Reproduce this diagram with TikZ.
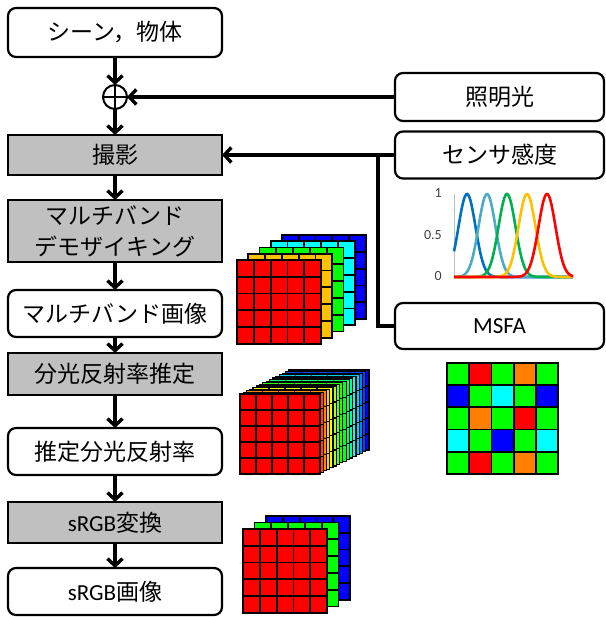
\documentclass[tikz,border=0pt]{standalone}
\usepackage{fontspec}
\setmainfont{Noto Sans CJK JP}
\newfontfamily\lat{Carlito}
\usetikzlibrary{arrows.meta,positioning}
\definecolor{boxgray}{RGB}{192,192,192}
\definecolor{axisgray}{RGB}{190,190,190}
\definecolor{tickgray}{RGB}{64,64,64}
\definecolor{sensA}{RGB}{0,112,192}
\definecolor{sensB}{RGB}{75,172,198}
\definecolor{sensC}{RGB}{0,176,80}
\definecolor{sensD}{RGB}{255,192,0}
\definecolor{sensE}{RGB}{255,0,0}
\definecolor{bandR}{RGB}{255,0,0}
\definecolor{bandY}{RGB}{255,192,0}
\definecolor{bandG}{RGB}{0,255,0}
\definecolor{bandC}{RGB}{0,255,255}
\definecolor{bandB}{RGB}{0,0,255}
\definecolor{bandO}{RGB}{255,128,0}
\newcommand{\boxfont}{\fontsize{23}{31}\selectfont}
\newcommand{\tickfont}{\lat\fontsize{14}{14}\selectfont}
% one 5x5 band: lower left x, y, cell size, fill, line width
\newcommand{\bandlayer}[5]{%
  \foreach \gi in {0,...,4}{\foreach \gj in {0,...,4}{
    \draw[fill=#4, line width=#5] ({#1+\gi*#3},{#2+\gj*#3}) rectangle ++(#3,#3);}}}
\tikzset{
    proc/.style = { draw, line width=2.2pt, fill=boxgray, align=center,
        minimum width = 214pt, inner sep=0pt, outer sep=0pt,
        font=\boxfont
    },
    data/.style = { proc, fill=white, rounded corners=8pt },
    src/.style = { data, minimum width = 209pt },
    sum/.style = { draw, circle, line width=2pt,
        minimum size = 24pt, inner sep=0pt, outer sep=0pt
    },
    tick/.style = { anchor=east, text=tickgray, font=\tickfont, inner sep=0pt },
    flow/.style = { line width=3.4pt, -{Straight Barb[length=7pt,width=15pt]} },
    wire/.style = { line width=3.4pt },
    curve/.style = { line width=2.6pt, smooth }
}
\begin{document}
\begin{tikzpicture}[x=1pt,y=1pt]
    \useasboundingbox (0,0) rectangle (605,617);

    % main flow...
    \node[data, minimum height=49pt] (scene) at (115,584.5) {シーン，物体};
    \node[sum, below=28pt of scene] (plus) {};
    \draw[line width=2pt] (plus.north) -- (plus.south) (plus.west) -- (plus.east);
    \node[proc, minimum height=40pt] (shoot) [below=26pt of plus] {撮影};
    \node[proc, minimum height=62pt] (demosaic) [below=25pt of shoot] {マルチバンド\\デモザイキング};
    \node[data, minimum height=47pt] (mbimg) [below=28pt of demosaic] {マルチバンド画像};
    \node[proc, minimum height=42pt] (estim) [below=16pt of mbimg] {分光反射率推定};
    \node[data, minimum height=47pt] (refl) [below=33pt of estim] {推定分光反射率};
    \node[proc, minimum height=41pt] (conv) [below=27pt of refl] {{\lat sRGB}変換};
    \node[data, minimum height=47pt] (srgb) [below=25pt of conv] {{\lat sRGB}画像};

    % inputs...
    \node[src, minimum height=48pt] (illum) at (499.5,520) {照明光};
    \node[src, minimum height=47pt] (sens) at (499.5,462) {センサ感度};
    \node[src, minimum height=46pt] (msfa) at (499.5,291) {\lat MSFA};
    \coordinate (tap) at (378,462);

    % arrows...
    \draw[flow] (scene) -- (plus);
    \draw[flow] (plus) -- (shoot);
    \foreach \a/\b in {shoot/demosaic, demosaic/mbimg, mbimg/estim, estim/refl, refl/conv, conv/srgb}
        \draw[flow] (\a) -- (\b);
    \draw[flow] (illum) -- (plus);
    \draw[flow] (sens) -- (shoot);
    \draw[wire] (tap) |- (msfa.west);

    % sensitivity curves...
    \begin{scope}[shift={(454,340)}]
        \draw[axisgray, line width=1pt] (0,83) -- (0,0) -- (119,0);
        \node[tick] (tk1) at (-12,84) {1};
        \node[tick] (tk5) at (-12,42) {0.5};
        \node[tick] (tk0) at (-12,1) {0};
        \foreach \p/\cc in {13/sensA, 33/sensB, 53/sensC, 73/sensD, 93/sensE}
            \draw[curve, \cc] plot[domain=0:119, samples=100] (\x, {83*exp(((\x-\p)^2)/-144)});
    \end{scope}

    % band stacks...
    \foreach \k/\cc in {4/bandB, 3/bandC, 2/bandG, 1/bandY, 0/bandR}
        \bandlayer{237+11.2*\k}{273+6.2*\k}{16.8}{\cc}{1.8pt};
    \foreach \k in {15,14,...,0}{
        \pgfmathsetmacro\hh{240*\k/15}
        \pgfmathsetmacro\rv{max(0,min(1,(120-\hh)/60))}
        \pgfmathsetmacro\gv{max(0,min(1,\hh/60,(240-\hh)/60))}
        \pgfmathsetmacro\bv{max(0,min(1,(\hh-120)/60))}
        \definecolor{layc}{rgb}{\rv,\gv,\bv}
        \bandlayer{240+3.27*\k}{143+1.6*\k}{16}{layc}{1.2pt};
    }
    \foreach \k/\cc in {2/bandB, 1/bandG, 0/bandR}
        \bandlayer{243+11.5*\k}{4+6.5*\k}{16.8}{\cc}{1.8pt};

    % filter array...
    \foreach \cc [count=\n from 0] in {G,R,G,O,G, B,G,C,G,B, G,O,G,R,G, C,G,B,G,C, G,R,G,O,G}{
        \pgfmathtruncatemacro\col{mod(\n,5)}
        \pgfmathtruncatemacro\row{int(\n/5)}
        \draw[fill=band\cc, line width=1.8pt] ({447+\col*22.2},{254-(\row+1)*22.2}) rectangle ++(22.2,22.2);
    }
\end{tikzpicture}
\end{document}
